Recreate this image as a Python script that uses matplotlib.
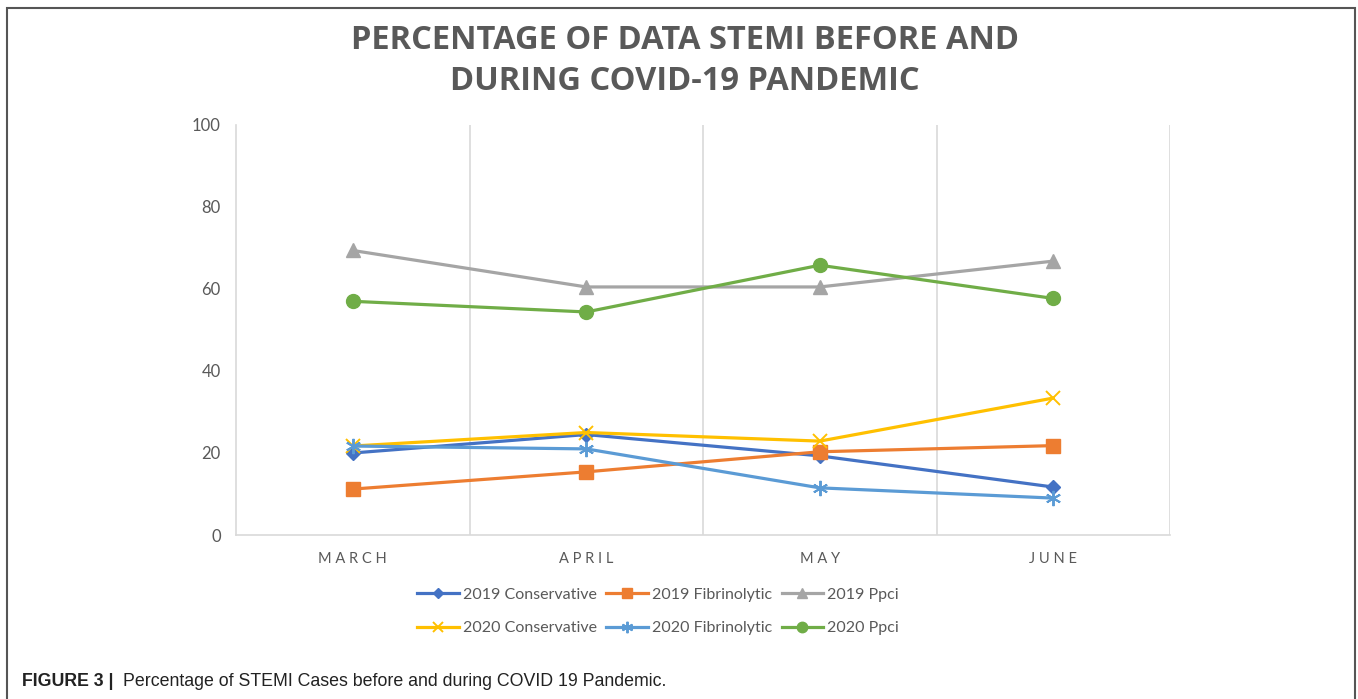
import matplotlib.pyplot as plt

# months on the x axis
months = ["MARCH", "APRIL", "MAY", "JUNE"]

# percentages
cons_2019 = [20.0, 24.5, 19.3, 11.7]
fib_2019 = [11.2, 15.4, 20.3, 21.8]
ppci_2019 = [69.4, 60.5, 60.5, 66.8]
cons_2020 = [21.7, 25.0, 22.9, 33.4]
fib_2020 = [21.7, 21.0, 11.5, 9.0]
ppci_2020 = [57.0, 54.4, 65.8, 57.7]

series_names = ["2019 Conservative", "2019 Fibrinolytic", "2019 Ppci",
                "2020 Conservative", "2020 Fibrinolytic", "2020 Ppci"]

txt_grey = "#595959"
grid_grey = "#d9d9d9"

fig = plt.figure(figsize=(13.58, 6.99), dpi=100)
W, H = 1358, 699

# axes placed to match the picture (pixels -> fractions)
ax = fig.add_axes([236 / W, 1 - 535 / H, (1170 - 236) / W, (535 - 125) / H])

x = range(len(months))
styles = [
    (cons_2019, "#4472C4", "D", 7),
    (fib_2019, "#ED7D31", "s", 10),
    (ppci_2019, "#A5A5A5", "^", 10),
    (cons_2020, "#FFC000", "x", 10),
    (fib_2020, "#5B9BD5", (6, 2, 0), 11),
    (ppci_2020, "#70AD47", "o", 10),
]
handles = []
for (vals, col, mk, ms), name in zip(styles, series_names):
    h, = ax.plot(x, vals, color=col, lw=2.3, marker=mk, markersize=ms,
                 markeredgewidth=1.4 if mk in ("x", (6, 2, 0)) else 1,
                 markeredgecolor=col, markerfacecolor=col, label=name,
                 solid_joinstyle="round")
    handles.append(h)

ax.set_xlim(-0.5, 3.5)
ax.set_ylim(0, 100)
ax.set_yticks(range(0, 101, 20))
ax.set_xticks(list(x))
ax.set_xticklabels([" ".join(m) for m in months], fontsize=10.5, color=txt_grey,
                   family="Lato")
ax.tick_params(axis="both", length=0, labelcolor=txt_grey)
ax.tick_params(axis="y", labelsize=12, pad=11)
ax.tick_params(axis="x", pad=12)
for lab in ax.get_yticklabels():
    lab.set_family("Lato")

for s in ["top", "right"]:
    ax.spines[s].set_visible(False)
ax.spines["left"].set_color(grid_grey)
ax.spines["bottom"].set_color(grid_grey)
ax.spines["left"].set_linewidth(1.2)
ax.spines["bottom"].set_linewidth(1.2)
for gx in [0.5, 1.5, 2.5, 3.5]:
    ax.axvline(gx, color=grid_grey, lw=1.2, zorder=0)

fig.text(685 / W, 1 - 61 / H,
         "PERCENTAGE OF DATA STEMI BEFORE AND\nDURING COVID-19 PANDEMIC",
         ha="center", va="center", fontsize=23.5, fontweight="bold",
         color=txt_grey, family="Open Sans", linespacing=1.3)

# legend laid out row by row like the original
order = [0, 3, 1, 4, 2, 5]
leg = fig.legend([handles[i] for i in order], [series_names[i] for i in order],
                 ncol=3, loc="center", bbox_to_anchor=(658 / W, 1 - 611.5 / H),
                 frameon=False, handlelength=2.6,
                 columnspacing=0.6, handletextpad=0.25, labelspacing=1.2,
                 markerscale=0.75, prop={"family": "Lato", "size": 11.5})
for t in leg.get_texts():
    t.set_color(txt_grey)

# figure frame
frame = plt.Rectangle((7 / W, -0.01), (1355 - 7) / W, 1 - 8 / H + 0.01,
                      transform=fig.transFigure, fill=False,
                      edgecolor="#555555", lw=1.5)
fig.add_artist(frame)

fig.text(22 / W, 1 - 682 / H, "FIGURE 3 |", ha="left", va="center",
         fontsize=12.8, fontweight="bold", color="#222222", family="Liberation Sans")
fig.text(123 / W, 1 - 682 / H,
         "Percentage of STEMI Cases before and during COVID 19 Pandemic.",
         ha="left", va="center", fontsize=12.8, color="#222222",
         family="Liberation Sans")

fig.savefig("out.png", dpi=100)
